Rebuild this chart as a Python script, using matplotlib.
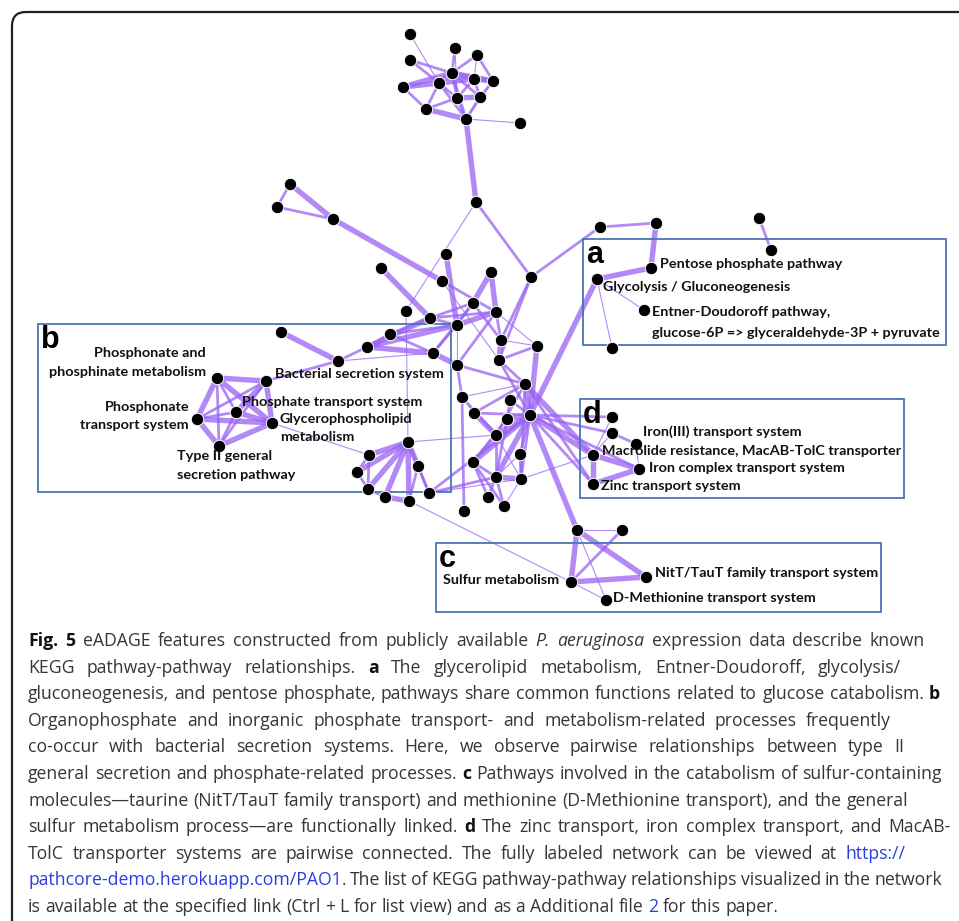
import numpy as np
import matplotlib
matplotlib.use('Agg')
import matplotlib.pyplot as plt
from matplotlib.collections import LineCollection
from matplotlib.patches import Rectangle, FancyBboxPatch

# node positions (pixel space of the original figure)
node_x = [410, 410, 455, 477, 403, 439, 452, 474, 493, 457, 480, 426, 466, 520,
          476, 290, 277, 333, 446, 381, 442, 491, 531, 473, 406, 496, 430, 457,
          281, 390, 367, 501, 537, 433, 338, 499, 457,
          217, 266, 236, 197, 272, 219,
          525, 462, 510, 474, 530, 507, 496, 408, 369, 520, 418, 473, 357, 496,
          521, 368, 385, 409, 429, 488, 504, 464, 577,
          600, 656, 759, 771, 651, 597, 644, 612,
          612, 612, 636, 593, 639, 593,
          622, 571, 646, 606]
node_y = [34, 60, 48, 55, 87, 83, 73, 79, 81, 98, 97, 109, 119, 123,
          202, 184, 207, 219, 254, 268, 281, 272, 277, 303, 311, 312, 318, 325,
          332, 334, 347, 340, 346, 353, 361, 360, 365,
          378, 381, 412, 419, 423, 446,
          384, 397, 400, 413, 415, 419, 435, 442, 455, 454, 466, 462, 472, 477,
          479, 489, 497, 501, 493, 497, 506, 511, 530,
          227, 223, 218, 250, 268, 279, 310, 348,
          417, 433, 444, 455, 469, 484,
          530, 582, 577, 600]

# edges: (a, b, strength 1=weak 2=medium 3=strong)
edges = [
    (0, 5, 1), (1, 5, 2), (1, 6, 2), (2, 6, 2), (2, 9, 1), (3, 6, 2), (3, 8, 2),
    (3, 7, 1), (4, 5, 3), (4, 6, 3), (4, 11, 2), (5, 6, 3), (5, 7, 3), (5, 9, 2),
    (5, 11, 2), (5, 12, 2), (6, 7, 3), (6, 8, 3), (6, 9, 2), (6, 10, 2), (7, 8, 3),
    (7, 10, 2), (7, 9, 2), (8, 10, 2), (8, 12, 1), (9, 10, 3), (9, 12, 2), (9, 11, 2),
    (10, 12, 2), (11, 12, 3), (12, 13, 1), (6, 12, 2),
    (12, 14, 3), (14, 24, 1), (14, 22, 2),
    (15, 16, 2), (16, 17, 2), (15, 17, 3), (17, 20, 3),
    (18, 27, 3), (19, 26, 3), (20, 25, 2), (20, 35, 1),
    (21, 23, 3), (21, 25, 3), (22, 66, 2), (22, 31, 2), (22, 35, 2),
    (23, 26, 2), (23, 27, 2), (23, 31, 2), (23, 33, 2),
    (24, 50, 1),
    (25, 27, 3), (25, 31, 2), (25, 32, 1), (25, 26, 2), (25, 36, 2),
    (26, 27, 2), (26, 29, 2), (26, 30, 3),
    (27, 30, 3), (27, 33, 2), (27, 36, 1), (27, 29, 2),
    (28, 34, 3), (29, 30, 2), (29, 33, 2), (30, 34, 2), (30, 33, 3),
    (31, 32, 1), (31, 35, 3), (32, 35, 2), (32, 47, 3),
    (33, 36, 3), (33, 34, 1), (34, 38, 2), (35, 47, 2), (35, 43, 2),
    (36, 44, 2), (36, 43, 2),
    (37, 38, 3), (37, 39, 2), (37, 40, 3), (37, 41, 3), (37, 42, 2), (38, 39, 3),
    (38, 40, 2), (38, 41, 3), (38, 42, 2), (39, 40, 2), (39, 41, 3), (39, 42, 2),
    (40, 41, 3), (40, 42, 3), (41, 42, 3), (41, 51, 1),
    (43, 47, 3), (43, 46, 2), (43, 49, 2), (43, 77, 3), (43, 79, 2), (43, 57, 2),
    (43, 44, 1), (44, 49, 2), (44, 64, 2), (44, 46, 1), (45, 48, 2), (45, 47, 2),
    (46, 49, 3), (46, 47, 2),
    (47, 48, 3), (47, 49, 3), (47, 52, 2), (47, 54, 3), (47, 56, 3), (47, 57, 2),
    (47, 77, 3), (47, 79, 2), (47, 65, 3), (47, 78, 2), (47, 74, 2),
    (48, 56, 2), (48, 54, 2), (49, 56, 2), (49, 54, 2), (49, 57, 1), (49, 50, 1),
    (50, 51, 3), (50, 55, 3), (50, 58, 3), (50, 59, 3), (50, 60, 3), (50, 53, 3),
    (50, 61, 2), (51, 55, 2), (51, 58, 2), (55, 58, 2), (58, 59, 2), (59, 60, 3),
    (53, 61, 2), (53, 60, 2), (61, 56, 2), (61, 57, 1), (61, 47, 2),
    (52, 57, 2), (52, 56, 1), (54, 56, 2), (54, 62, 2), (54, 63, 2),
    (56, 57, 3), (56, 62, 2), (56, 63, 2), (57, 63, 1), (57, 77, 1),
    (60, 81, 1),
    (65, 80, 1), (65, 81, 3), (65, 82, 3), (80, 81, 2), (81, 82, 3), (81, 83, 1),
    (65, 83, 1),
    (66, 67, 2), (67, 70, 3), (70, 71, 3), (71, 72, 1), (71, 73, 1), (71, 47, 3),
    (68, 69, 2),
    (77, 79, 3), (77, 78, 3), (79, 78, 3), (75, 76, 2), (76, 78, 1), (74, 77, 1),
    (75, 77, 1), (47, 75, 2),
]

# node labels: (text, x, y, ha)
labels = [
    ("Pentose phosphate pathway", 660, 264, 'left'),
    ("Glycolysis / Gluconeogenesis", 603, 287, 'left'),
    ("Entner-Doudoroff pathway,", 652, 312, 'left'),
    ("glucose-6P => glyceraldehyde-3P + pyruvate", 652, 333, 'left'),
    ("Phosphonate and", 206, 353, 'right'),
    ("phosphinate metabolism", 206, 372, 'right'),
    ("Phosphonate", 189, 407, 'right'),
    ("transport system", 189, 425, 'right'),
    ("Type II general", 177, 456, 'left'),
    ("secretion pathway", 177, 475, 'left'),
    ("Bacterial secretion system", 275, 374, 'left'),
    ("Phosphate transport system", 242, 402, 'left'),
    ("Glycerophospholipid", 280, 419, 'left'),
    ("metabolism", 280, 437, 'left'),
    ("Iron(III) transport system", 643, 432, 'left'),
    ("Macrolide resistance, MacAB-TolC transporter", 602, 451, 'left'),
    ("Iron complex transport system", 649, 468, 'left'),
    ("Zinc transport system", 601, 486, 'left'),
    ("Sulfur metabolism", 443, 580, 'left'),
    ("NitT/TauT family transport system", 655, 573, 'left'),
    ("D-Methionine transport system", 613, 598, 'left'),
]

# highlight boxes: letter, left, top, right, bottom
boxes = [("a", 583, 239, 946, 345), ("b", 38, 324, 451, 492),
         ("c", 436, 543, 881, 612), ("d", 580, 399, 904, 498)]

caption = [
    [("Fig. 5", 'b'), (" eADAGE features constructed from publicly available ", 'n'),
     ("P. aeruginosa", 'i'), (" expression data describe known", 'n')],
    [("KEGG pathway-pathway relationships. ", 'n'), ("a", 'b'),
     (" The glycerolipid metabolism, Entner-Doudoroff, glycolysis/", 'n')],
    [("gluconeogenesis, and pentose phosphate, pathways share common functions related to glucose catabolism. ", 'n'),
     ("b", 'b')],
    [("Organophosphate and inorganic phosphate transport- and metabolism-related processes frequently", 'n')],
    [("co-occur with bacterial secretion systems. Here, we observe pairwise relationships between type II", 'n')],
    [("general secretion and phosphate-related processes. ", 'n'), ("c", 'b'),
     (" Pathways involved in the catabolism of sulfur-containing", 'n')],
    [("molecules\u2014taurine (NitT/TauT family transport) and methionine (D-Methionine transport), and the general", 'n')],
    [("sulfur metabolism process\u2014are functionally linked. ", 'n'), ("d", 'b'),
     (" The zinc transport, iron complex transport, and MacAB-", 'n')],
    [("TolC transporter systems are pairwise connected. The fully labeled network can be viewed at ", 'n'),
     ("https://", 'l')],
    [("pathcore-demo.herokuapp.com/PAO1", 'l'),
     (". The list of KEGG pathway-pathway relationships visualized in the network", 'n')],
    [("is available at the specified link (Ctrl + L for list view) and as a Additional file ", 'n'),
     ("2", 'l'), (" for this paper.", 'n')],
]
caption_right = [925, 901, 940, 891, 904, 942, 908, 951, 905, 942, None]

W, H = 959, 921
fig = plt.figure(figsize=(W / 100, H / 100), dpi=100)
ax = fig.add_axes([0, 0, 1, 1])
ax.set_xlim(0, W)
ax.set_ylim(H, 0)
ax.axis('off')

# page frame
ax.add_patch(FancyBboxPatch((12, 12), 1000, 1000, boxstyle="round,pad=0,rounding_size=14",
                            fill=False, ec='#222222', lw=1.6, zorder=0))

lw_map = {1: 0.8, 2: 2.0, 3: 3.9}
segs = [[(node_x[a], node_y[a]), (node_x[b], node_y[b])] for a, b, s in edges]
lc = LineCollection(segs, linewidths=[lw_map[s] for a, b, s in edges],
                    colors='#9a62f4', alpha=0.75, zorder=2, capstyle='round')
ax.add_collection(lc)

for letter, x0, y0, x1, y1 in boxes:
    ax.add_patch(Rectangle((x0, y0), x1 - x0, y1 - y0, fill=False, ec='#4a74b4', lw=1.3, zorder=3))
    ax.text(x0 + 3, y0 + 1, letter, fontsize=22, fontweight='bold', family='Liberation Sans',
            ha='left', va='top', zorder=6)

ax.scatter(node_x, node_y, s=80, c='black', edgecolors='white', linewidths=0.7, zorder=4)

for txt, x, y, ha in labels:
    ax.text(x, y, txt, fontsize=10.4, fontweight='bold', family='Lato', ha=ha, va='center',
            color='#111111', zorder=5)

# caption, justified line by line
renderer = fig.canvas.get_renderer()
styles = {'n': dict(color='#363636'), 'b': dict(color='#111111', fontweight='bold'),
          'i': dict(color='#363636', style='italic'), 'l': dict(color='#2b3fe0')}
cap_fs = 12.7
x_left = 28
t1 = ax.text(0, 0, 'a a', fontsize=cap_fs, family='Open Sans')
t2 = ax.text(0, 0, 'aa', fontsize=cap_fs, family='Open Sans')
space = t1.get_window_extent(renderer).width - t2.get_window_extent(renderer).width
t1.remove()
t2.remove()
for li, line in enumerate(caption):
    y = 641 + 26.6 * li
    words = []
    attach = False
    for txt, st in line:
        parts = txt.split(' ')
        for k, p in enumerate(parts):
            if k > 0:
                attach = False
            if p:
                if attach and words:
                    words[-1].append((p, st))
                else:
                    words.append([(p, st)])
                attach = True
    items = []
    widths = []
    for w in words:
        objs = []
        wsum = 0
        for p, st in w:
            t = ax.text(0, y, p, fontsize=cap_fs, family='Open Sans', va='center', ha='left', **styles[st])
            wd = t.get_window_extent(renderer).width
            objs.append((t, wd))
            wsum += wd
        items.append(objs)
        widths.append(wsum)
    right = caption_right[li]
    if right is None or len(words) < 2:
        gap = space
    else:
        gap = max((right - x_left - sum(widths)) / (len(words) - 1), space * 0.6)
    x = x_left
    for objs, wsum in zip(items, widths):
        for t, wd in objs:
            t.set_x(x)
            x += wd
        x += gap

fig.savefig('out.png', dpi=100)
